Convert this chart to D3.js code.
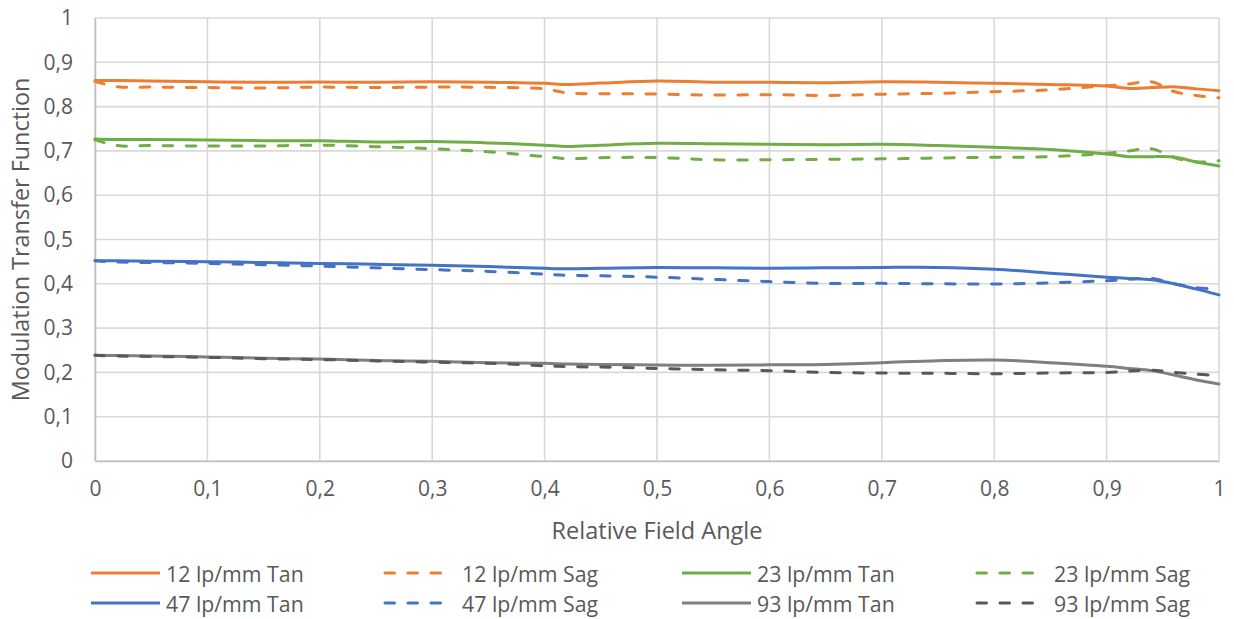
<!DOCTYPE html>
<html>
<head>
<meta charset="utf-8">
<script src="https://cdn.jsdelivr.net/npm/d3@7"></script>
<style>
  html, body { margin: 0; padding: 0; background: #fff; }
  svg { display: block; }
  text { font-family: "Open Sans", "Liberation Sans", sans-serif; fill: #595959; }
</style>
</head>
<body>
<svg id="chart" width="1234" height="619"></svg>
<script>
// Relative field positions at which the MTF was sampled
const field = [0, 0.02, 0.05, 0.1, 0.15, 0.2, 0.25, 0.3, 0.35, 0.4, 0.42, 0.45, 0.5,
               0.55, 0.6, 0.65, 0.7, 0.75, 0.8, 0.85, 0.9, 0.92, 0.94, 0.96, 0.98, 1];

// MTF values, tangential and sagittal, per spatial frequency
const tan12 = [0.859, 0.859, 0.858, 0.856, 0.855, 0.8555, 0.855, 0.856, 0.855, 0.8525, 0.850, 0.853, 0.8578,
               0.855, 0.855, 0.854, 0.856, 0.855, 0.8525, 0.850, 0.8465, 0.841, 0.843, 0.845, 0.840, 0.836];
const sag12 = [0.857, 0.845, 0.844, 0.843, 0.842, 0.844, 0.843, 0.844, 0.8435, 0.840, 0.831, 0.829, 0.8285,
               0.826, 0.827, 0.825, 0.828, 0.830, 0.8336, 0.838, 0.847, 0.851, 0.856, 0.834, 0.825, 0.820];
const tan23 = [0.727, 0.726, 0.726, 0.7246, 0.723, 0.723, 0.720, 0.721, 0.718, 0.713, 0.710, 0.713, 0.717,
               0.716, 0.715, 0.714, 0.715, 0.712, 0.708, 0.703, 0.693, 0.687, 0.687, 0.686, 0.675, 0.666];
const sag23 = [0.725, 0.712, 0.712, 0.711, 0.711, 0.713, 0.7095, 0.705, 0.698, 0.687, 0.6825, 0.6847, 0.685,
               0.680, 0.680, 0.681, 0.682, 0.684, 0.6855, 0.687, 0.6945, 0.6998, 0.705, 0.685, 0.675, 0.678];
const tan47 = [0.452, 0.452, 0.451, 0.450, 0.448, 0.446, 0.444, 0.442, 0.439, 0.435, 0.434, 0.435, 0.437,
               0.436, 0.435, 0.436, 0.437, 0.437, 0.433, 0.424, 0.415, 0.412, 0.409, 0.400, 0.388, 0.375];
const sag47 = [0.452, 0.449, 0.448, 0.446, 0.443, 0.440, 0.436, 0.432, 0.428, 0.422, 0.419, 0.418, 0.415,
               0.410, 0.405, 0.401, 0.401, 0.400, 0.3996, 0.402, 0.407, 0.410, 0.412, 0.400, 0.391, 0.388];
const tan93 = [0.2385, 0.238, 0.237, 0.235, 0.232, 0.230, 0.227, 0.225, 0.222, 0.2205, 0.219, 0.218, 0.2167,
               0.216, 0.217, 0.218, 0.222, 0.2265, 0.228, 0.222, 0.214, 0.209, 0.204, 0.194, 0.183, 0.174];
const sag93 = [0.2385, 0.237, 0.236, 0.234, 0.231, 0.229, 0.226, 0.223, 0.2205, 0.215, 0.213, 0.212, 0.209,
               0.206, 0.204, 0.200, 0.1986, 0.198, 0.197, 0.1986, 0.200, 0.203, 0.205, 0.200, 0.196, 0.1926];

const seriesNames = ["12 lp/mm Tan", "12 lp/mm Sag", "23 lp/mm Tan", "23 lp/mm Sag",
                     "47 lp/mm Tan", "47 lp/mm Sag", "93 lp/mm Tan", "93 lp/mm Sag"];
const seriesValues = [tan12, sag12, tan23, sag23, tan47, sag47, tan93, sag93];
const seriesColors = ["#ED7D31", "#ED7D31", "#70AD47", "#70AD47",
                      "#4472C4", "#4472C4", "#7F7F7F", "#595959"];
const seriesDashed = [false, true, false, true, false, true, false, true];

const xTicks = [0, 0.1, 0.2, 0.3, 0.4, 0.5, 0.6, 0.7, 0.8, 0.9, 1];
const xTickLabels = ["0", "0,1", "0,2", "0,3", "0,4", "0,5", "0,6", "0,7", "0,8", "0,9", "1"];
const yTicks = [0, 0.1, 0.2, 0.3, 0.4, 0.5, 0.6, 0.7, 0.8, 0.9, 1];
const yTickLabels = ["0", "0,1", "0,2", "0,3", "0,4", "0,5", "0,6", "0,7", "0,8", "0,9", "1"];

const xTitle = "Relative Field Angle";
const yTitle = "Modulation Transfer Function";

// Layout
const plot = { left: 95, right: 1219, top: 18, bottom: 461 };
const svg = d3.select("#chart");

const x = d3.scaleLinear().domain([0, 1]).range([plot.left, plot.right]);
const y = d3.scaleLinear().domain([0, 1]).range([plot.bottom, plot.top]);

// Gridlines
const grid = svg.append("g");
grid.selectAll("line.h").data(yTicks).join("line")
  .attr("x1", plot.left).attr("x2", plot.right)
  .attr("y1", d => y(d)).attr("y2", d => y(d))
  .attr("stroke", "#D9D9D9").attr("stroke-width", 1.6);
grid.selectAll("line.v").data(xTicks).join("line")
  .attr("y1", plot.top).attr("y2", plot.bottom)
  .attr("x1", d => x(d)).attr("x2", d => x(d))
  .attr("stroke", "#D9D9D9").attr("stroke-width", 1.6);

// Axes (lines only; labels drawn from the tick label arrays)
const xAxis = d3.axisBottom(x).tickValues(xTicks).tickSize(0)
  .tickFormat((d, i) => xTickLabels[i]).tickPadding(20);
const gx = svg.append("g").attr("transform", `translate(0,${plot.bottom})`).call(xAxis);
gx.select(".domain").attr("stroke", "#BFBFBF").attr("stroke-width", 1.6);
gx.selectAll("text").attr("font-size", 21).attr("fill", "#595959")
  .style("font-family", "'Open Sans', sans-serif");

const yAxis = d3.axisLeft(y).tickValues(yTicks).tickSize(0)
  .tickFormat((d, i) => yTickLabels[i]).tickPadding(22);
const gy = svg.append("g").attr("transform", `translate(${plot.left},0)`).call(yAxis);
gy.select(".domain").attr("stroke", "#BFBFBF").attr("stroke-width", 1.6);
gy.selectAll("text").attr("font-size", 21).attr("fill", "#595959")
  .style("font-family", "'Open Sans', sans-serif");

// Series lines
const line = d3.line()
  .x((d, i) => x(field[i]))
  .y(d => y(d))
  .curve(d3.curveCatmullRom.alpha(0.5));

const lines = svg.append("g");
seriesValues.forEach((vals, k) => {
  lines.append("path")
    .attr("d", line(vals))
    .attr("fill", "none")
    .attr("stroke", seriesColors[k])
    .attr("stroke-width", 3)
    .attr("stroke-linecap", "round")
    .attr("stroke-linejoin", "round")
    .attr("stroke-dasharray", seriesDashed[k] ? "9.5,13.5" : null);
});

// Axis titles
svg.append("text")
  .attr("x", (plot.left + plot.right) / 2).attr("y", 530)
  .attr("text-anchor", "middle").attr("dominant-baseline", "central")
  .attr("font-size", 23.5).text(xTitle);

svg.append("text")
  .attr("transform", `translate(20,${(plot.top + plot.bottom) / 2}) rotate(-90)`)
  .attr("text-anchor", "middle").attr("dominant-baseline", "central")
  .attr("font-size", 23.4).text(yTitle);

// Legend: four columns, two rows
const legendCols = [91, 385, 682, 977];
const legendRows = [573, 603];
const legend = svg.append("g");
seriesNames.forEach((name, k) => {
  const col = k % 4;
  const row = Math.floor(k / 4);
  const lx = legendCols[col];
  const ly = legendRows[row];
  const dashed = seriesDashed[k];
  const len = dashed ? 60 : 69;
  legend.append("line")
    .attr("x1", lx).attr("x2", lx + len)
    .attr("y1", ly).attr("y2", ly)
    .attr("stroke", seriesColors[k]).attr("stroke-width", 3)
    .attr("stroke-linecap", dashed ? "round" : "butt")
    .attr("stroke-dasharray", dashed ? "9.5,13.5" : null);
  legend.append("text")
    .attr("x", lx + (dashed ? 77 : 75)).attr("y", ly)
    .attr("dominant-baseline", "central")
    .attr("font-size", 21.3).text(name);
});
</script>
</body>
</html>
